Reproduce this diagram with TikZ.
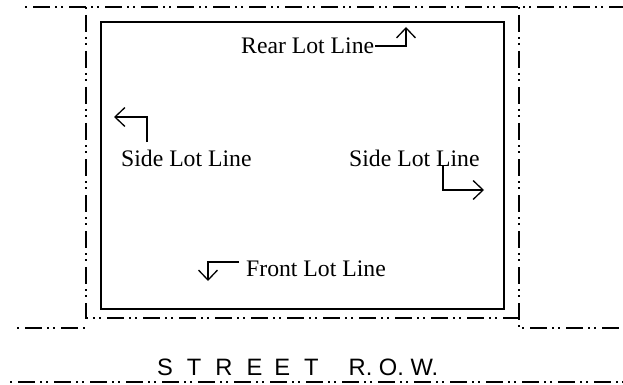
\documentclass[tikz,border=0pt]{standalone}
\usepackage{fontspec}
\setmainfont{Liberation Serif}
\newfontfamily\streetfont{Liberation Sans}
\usetikzlibrary{arrows.meta}
\begin{document}
\begin{tikzpicture}[x=1pt,y=-1pt,
  rowline/.style={line width=1.1pt,dash pattern=on 17pt off 5pt on 2pt off 4pt on 2pt off 6pt,dash phase=28pt},
  lot/.style={line width=1.5pt},
  lbl/.style={inner sep=0pt,anchor=base west,font=\fontsize{23.7}{28}\selectfont},
  pointer/.style={line width=1.3pt,-{Straight Barb[length=10pt,width=19pt,line width=1.3pt]}}]
\useasboundingbox (0,0) rectangle (623,385);
% right-of-way / setback lines
\draw[rowline] (25,7) -- (623,7);
\draw[rowline] (86,7) -- (86,318) -- (519,318);
\draw[rowline] (519,7) -- (519,328) -- (623,328);
\draw[rowline] (17,328) -- (87,328);
\draw[rowline] (10,382) -- (623,382);
% lot
\draw[lot] (101,22) rectangle (504,309);
% labels
\node[lbl] (rear) at (241,54) {Rear Lot Line};
\node[lbl] (sideL) at (121,166) {Side Lot Line};
\node[lbl] (sideR) at (349,166) {Side Lot Line};
\node[lbl] (front) at (246,276) {Front Lot Line};
\node[lbl,font=\streetfont\fontsize{23.7}{28}\selectfont] (street) at (157,375)
  {S\hspace{14pt}T\hspace{14pt}R\hspace{14pt}E\hspace{12pt}E\hspace{14pt}T\hspace{30pt}R. O. W.};
% pointers
\coordinate (rA) at (375,46); \coordinate (rB) at (406,46); \coordinate (rC) at (406,27);
\draw[pointer] (rA) -- (rB) -- (rC);
\coordinate (lA) at (147,142); \coordinate (lB) at (147,117); \coordinate (lC) at (114,117);
\draw[pointer] (lA) -- (lB) -- (lC);
\coordinate (sA) at (443,165); \coordinate (sB) at (443,190); \coordinate (sC) at (484,190);
\draw[pointer] (sA) -- (sB) -- (sC);
\coordinate (fA) at (239,262); \coordinate (fB) at (208,262); \coordinate (fC) at (208,281);
\draw[pointer] (fA) -- (fB) -- (fC);
\end{tikzpicture}
\end{document}
